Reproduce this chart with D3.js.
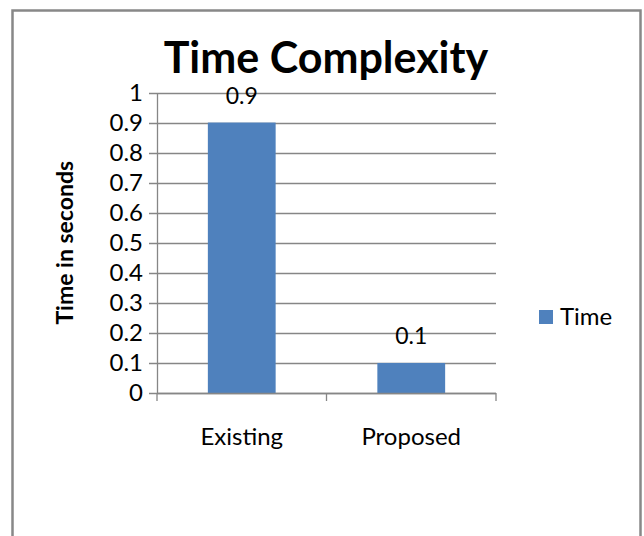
<!DOCTYPE html>
<html>
<head>
<meta charset="utf-8">
<script src="https://cdn.jsdelivr.net/npm/d3@7"></script>
<style>
  html, body { margin: 0; padding: 0; background: #fff; }
  svg { display: block; font-family: Lato, "Open Sans", sans-serif; }
</style>
</head>
<body>
<svg id="chart" width="644" height="536"></svg>
<script>
// chart data
const categories = ["Existing", "Proposed"];
const timeValues = [0.9, 0.1];
const yTicks = [0, 0.1, 0.2, 0.3, 0.4, 0.5, 0.6, 0.7, 0.8, 0.9, 1];
const seriesName = "Time";
const chartTitle = "Time Complexity";
const yTitle = "Time in seconds";

const barColor = "#4f81bd";
const gridColor = "#868686";

const svg = d3.select("#chart");

// outer frame (bottom edge runs off the picture)
svg.append("rect")
    .attr("x", 12.5).attr("y", 10.5)
    .attr("width", 628).attr("height", 560)
    .attr("fill", "none")
    .attr("stroke", "#888")
    .attr("stroke-width", 2.5);

const plot = { left: 157, right: 496, top: 92.5, bottom: 393 };

const x = d3.scaleBand()
    .domain(categories)
    .range([plot.left, plot.right])
    .paddingInner(0.6)
    .paddingOuter(0.3);

const xEdges = d3.scaleBand()
    .domain(categories)
    .range([plot.left, plot.right]);

const y = d3.scaleLinear()
    .domain([0, 1])
    .range([plot.bottom, plot.top]);

// gridlines
svg.append("g")
    .selectAll("line")
    .data(yTicks)
    .enter().append("line")
    .attr("x1", plot.left - 8)
    .attr("x2", plot.right)
    .attr("y1", d => Math.round(y(d)) + 0.5)
    .attr("y2", d => Math.round(y(d)) + 0.5)
    .attr("stroke", gridColor)
    .attr("stroke-width", 1.3);

// y axis
const yAxis = svg.append("g")
    .attr("transform", `translate(${plot.left},0)`)
    .call(d3.axisLeft(y).tickValues(yTicks).tickSize(0).tickPadding(14).tickFormat(d3.format("")));
yAxis.select(".domain").attr("stroke", gridColor).attr("stroke-width", 1.3);
yAxis.selectAll("text")
    .attr("font-size", 24)
    .attr("fill", "#000")
    .attr("font-family", "Lato, sans-serif");

// bars
svg.append("g")
    .selectAll("rect")
    .data(timeValues)
    .enter().append("rect")
    .attr("x", (d, i) => x(categories[i]))
    .attr("width", x.bandwidth())
    .attr("y", d => y(d))
    .attr("height", d => y(0) - y(d))
    .attr("fill", barColor);

// x axis line and ticks at category edges
svg.append("line")
    .attr("x1", plot.left).attr("x2", plot.right)
    .attr("y1", plot.bottom + 0.5).attr("y2", plot.bottom + 0.5)
    .attr("stroke", gridColor).attr("stroke-width", 1.3);

const edges = categories.map(c => xEdges(c)).concat([plot.right]);
svg.append("g")
    .selectAll("line")
    .data(edges)
    .enter().append("line")
    .attr("x1", d => d).attr("x2", d => d)
    .attr("y1", plot.bottom).attr("y2", plot.bottom + 8)
    .attr("stroke", gridColor).attr("stroke-width", 1.3);

// category labels
svg.append("g")
    .selectAll("text")
    .data(categories)
    .enter().append("text")
    .attr("x", d => xEdges(d) + xEdges.bandwidth() / 2)
    .attr("y", 445)
    .attr("text-anchor", "middle")
    .attr("font-size", 24)
    .text(d => d);

// data labels
svg.append("g")
    .selectAll("text")
    .data(timeValues)
    .enter().append("text")
    .attr("x", (d, i) => x(categories[i]) + x.bandwidth() / 2)
    .attr("y", d => y(d) - 19)
    .attr("text-anchor", "middle")
    .attr("font-size", 23)
    .text(d => d);

// title
svg.append("text")
    .attr("x", 326)
    .attr("y", 73)
    .attr("text-anchor", "middle")
    .attr("font-size", 43)
    .attr("font-weight", "bold")
    .text(chartTitle);

// y axis title
svg.append("text")
    .attr("transform", `translate(73,${(plot.top + plot.bottom) / 2}) rotate(-90)`)
    .attr("text-anchor", "middle")
    .attr("font-size", 23)
    .attr("font-weight", "bold")
    .text(yTitle);

// legend
const legend = svg.append("g").attr("transform", "translate(539,310)");
legend.append("rect")
    .attr("width", 14).attr("height", 14)
    .attr("fill", barColor);
legend.append("text")
    .attr("x", 21).attr("y", 15)
    .attr("font-size", 24)
    .text(seriesName);
</script>
</body>
</html>
